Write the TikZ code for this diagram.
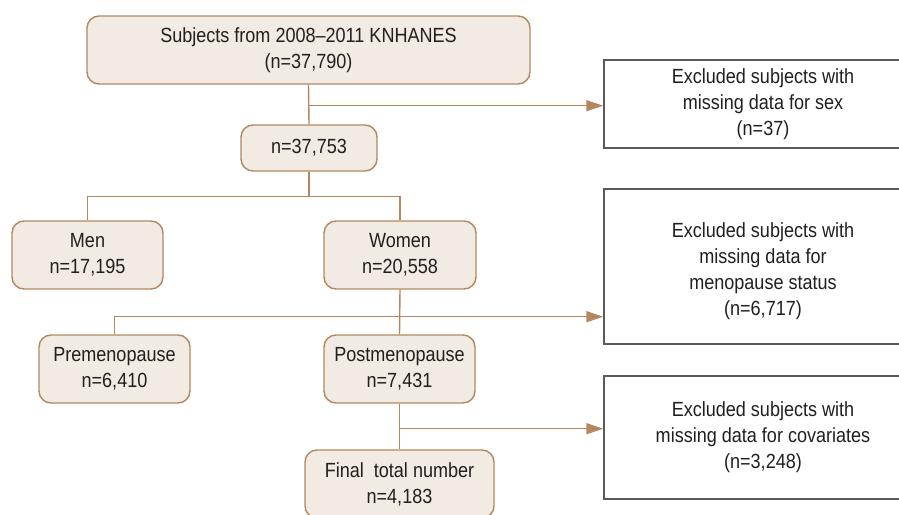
\documentclass[tikz,border=0pt]{standalone}
\usepackage{fontspec}
\setmainfont{Liberation Sans}[FakeStretch=0.88]
\usetikzlibrary{arrows.meta}
\definecolor{brn}{HTML}{B3885E}
\definecolor{bfill}{HTML}{F2EBE3}
\definecolor{txt}{HTML}{231F20}
\definecolor{gry}{HTML}{5A5A5A}
\begin{document}
\begin{tikzpicture}[x=1pt,y=-1pt,
  every node/.style={font=\fontsize{20.5}{26}\selectfont, text=txt, align=center, inner sep=0pt},
  rbox/.style={draw=brn, fill=bfill, line width=1.4pt, rounded corners=12pt},
  xbox/.style={draw=gry, line width=1.4pt, fill=white},
  conn/.style={draw=brn, line width=1.4pt},
  arr/.style={conn, -{Triangle[length=17pt,width=11pt]}, brn}]
\useasboundingbox (0,0) rectangle (899,514);
\clip (0,0) rectangle (899,514);

\node[rbox, minimum width=443, minimum height=68] (top) at (308.5,50) {Subjects from 2008–2011 KNHANES\\(n=37,790)};
\node[rbox, minimum width=136, minimum height=46] (n1) at (309,148) {n=37,753};
\node[rbox, minimum width=151, minimum height=68] (men) at (87.5,255) {Men\\n=17,195};
\node[rbox, minimum width=152, minimum height=68] (women) at (400,255) {Women\\n=20,558};
\node[rbox, minimum width=151, minimum height=68] (pre) at (114.5,369) {Premenopause\\n=6,410};
\node[rbox, minimum width=151, minimum height=68] (post) at (399.5,369) {Postmenopause\\n=7,431};
\node[rbox, minimum width=189, minimum height=68] (fin) at (399.5,484) {Final~ total number\\n=4,183};

\node[xbox, minimum width=318, minimum height=88] (ex1) at (763,104) {Excluded subjects with\\missing data for sex\\(n=37)};
\node[xbox, minimum width=318, minimum height=155] (ex2) at (763,266.5) {\rule{0pt}{25pt}Excluded subjects with\\missing data for\\menopause status\\(n=6,717)};
\node[xbox, minimum width=318, minimum height=123] (ex3) at (763,437.5) {Excluded subjects with\\missing data for covariates\\(n=3,248)};

\draw[conn] (top.south) -- (n1.north);
\path (top.south) ++(0,21) coordinate (j1);
\draw[arr] (j1) -- (j1 -| ex1.west);

\path (n1.south) ++(0,25) coordinate (j2);
\draw[conn] (n1.south) -- (j2);
\draw[conn] (men.north) |- (j2);
\draw[conn] (women.north) |- (j2);

\draw[conn] (women.south) -- (post.north);
\path (women.south) ++(0,27) coordinate (j3);
\draw[conn] (pre.north) |- (j3);
\draw[arr] (j3) -- (j3 -| ex2.west);

\draw[conn] (post.south) -- (fin.north);
\path (post.south) ++(0,25) coordinate (j4);
\draw[arr] (j4) -- (j4 -| ex3.west);
\end{tikzpicture}
\end{document}
